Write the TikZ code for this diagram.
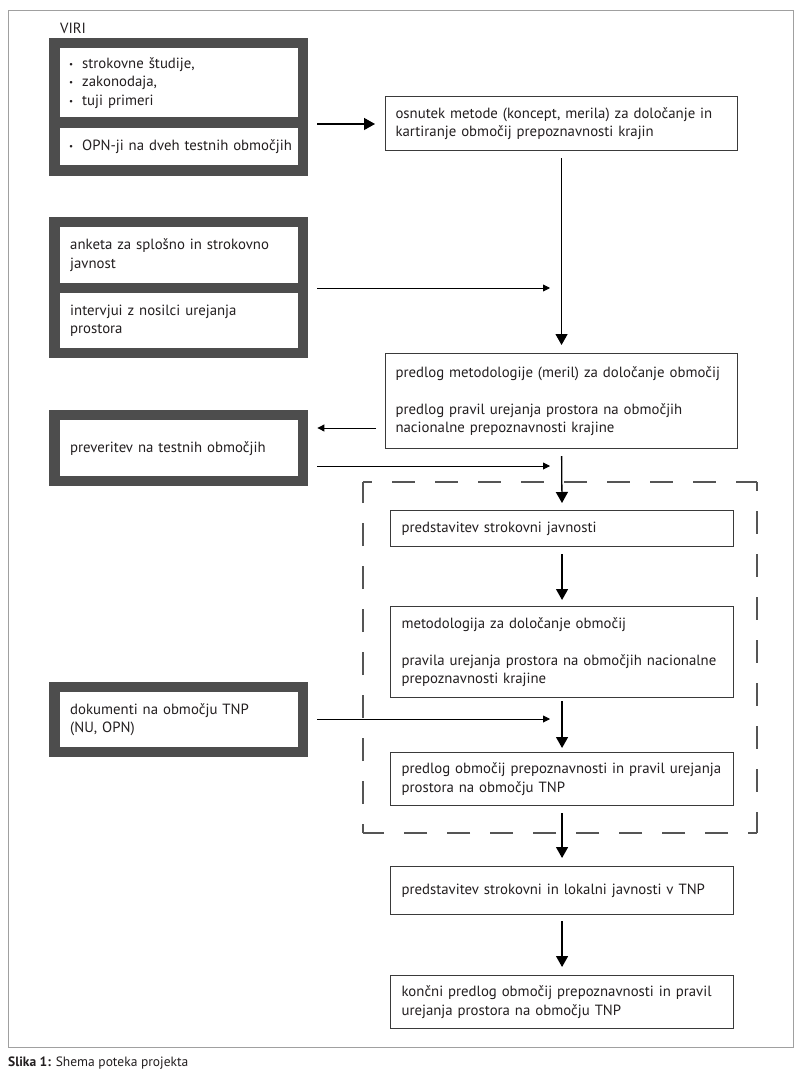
\documentclass[tikz,border=0pt]{standalone}
\usepackage{fontspec}
\setmainfont{PT Sans}
\usetikzlibrary{arrows.meta}
\definecolor{darkc}{HTML}{4D4D4D}
\definecolor{boxc}{HTML}{3A3A3A}
\definecolor{framec}{HTML}{A0A0A0}
\definecolor{dashc}{HTML}{555555}
\definecolor{txtc}{HTML}{231F20}
\newcommand\bul{\makebox[13pt][l]{\fontsize{9}{9}\selectfont\raisebox{0.15ex}{•}}}
\begin{document}
\begin{tikzpicture}[x=1pt,y=-1pt,
  bodyfont/.style={font=\fontsize{14.8}{18.5}\selectfont, text=txtc},
  box/.style={draw=boxc, line width=1.1pt, fill=white, anchor=north west, align=left,
    inner xsep=10pt, inner ysep=0pt, bodyfont},
  darkbox/.style={fill=darkc, draw=none, anchor=north west, inner sep=0pt},
  inbox/.style={fill=white, draw=none, anchor=north west, align=left,
    inner xsep=10pt, inner ysep=0pt, bodyfont},
  bigarr/.style={line width=1.3pt, draw=black, -{Triangle[length=11pt,width=12pt]}},
  smallarr/.style={line width=0.9pt, draw=black, -{Triangle[length=7pt,width=7pt]}},
  dashline/.style={dashc, line width=1.4pt, dash pattern=on 23pt off 20pt, dash phase=14pt}
]
\useasboundingbox (0,0) rectangle (800,1075);
\fill[white] (0,0) rectangle (800,1075);
% outer frame
\draw[framec, line width=1pt] (8,11) rectangle (793,1047);

% dashed group (each side starts with a short corner piece)
\coordinate (dA) at (363,482);
\coordinate (dB) at (757,482);
\coordinate (dC) at (757,833);
\coordinate (dD) at (363,833);
\draw[dashline] (dA) -- (dB);
\draw[dashline] (dB) -- (dC);
\draw[dashline] (dC) -- (dD);
\draw[dashline] (dD) -- (dA);

% VIRI
\node[anchor=west, bodyfont, inner sep=0pt] (virilabel) at (60,28) {VIRI};
\node[darkbox, minimum width=259pt, minimum height=138pt] (viri) at (49,38) {};
\node[inbox, text width=220pt, minimum height=69pt, inner xsep=9pt] (viri1) at (60,48)
  {\bul strokovne študije,\\ \bul zakonodaja,\\ \bul tuji primeri};
\node[inbox, text width=220pt, minimum height=37pt, inner xsep=9pt] (viri2) at (60,128)
  {\mbox{\bul OPN-ji na dveh testnih območjih}};

% anketa
\node[darkbox, minimum width=259pt, minimum height=141pt] (anketa) at (49,217) {};
\node[inbox, text width=218pt, minimum height=56pt] (anketa1) at (60,227)
  {anketa za splošno in strokovno\\ javnost};
\node[inbox, text width=218pt, minimum height=55pt] (anketa2) at (60,293)
  {intervjui z nosilci urejanja\\ prostora};

% preveritev
\node[darkbox, minimum width=259pt, minimum height=76pt] (prev) at (49,410) {};
\node[inbox, text width=218pt, minimum height=56pt] (prev1) at (60,420)
  {preveritev na testnih območjih};

% dokumenti
\node[darkbox, minimum width=259pt, minimum height=75pt] (dok) at (49,682) {};
\node[inbox, text width=218pt, minimum height=55pt] (dok1) at (60,692)
  {dokumenti na območju TNP\\ (NU, OPN)};

% right column
\node[box, text width=332pt, minimum height=54pt] (osnutek) at (385,96)
  {osnutek metode (koncept, merila) za določanje in\\ kartiranje območij prepoznavnosti krajin};
\node[box, text width=332pt, minimum height=95pt] (predlog) at (385,353)
  {predlog metodologije (meril) za določanje območij\\[18.5pt] predlog pravil urejanja prostora na območjih\\ nacionalne prepoznavnosti krajine};
\node[box, text width=321pt, minimum height=36pt, inner xsep=11pt] (pstrok) at (390,510)
  {predstavitev strokovni javnosti};
\node[box, text width=321pt, minimum height=91pt, inner xsep=11pt] (metod) at (390,606)
  {metodologija za določanje območij\\[18.5pt] pravila urejanja prostora na območjih nacionalne\\ prepoznavnosti krajine};
\node[box, text width=321pt, minimum height=53pt, inner xsep=11pt] (predobm) at (390,752)
  {predlog območij prepoznavnosti in pravil urejanja\\ prostora na območju TNP};
\node[box, text width=321pt, minimum height=48pt, inner xsep=11pt] (plok) at (390,866)
  {predstavitev strokovni in lokalni javnosti v TNP};
\node[box, text width=321pt, minimum height=53pt, inner xsep=11pt] (koncni) at (390,975)
  {končni predlog območij prepoznavnosti in pravil\\ urejanja prostora na območju TNP};

% caption
\node[anchor=base west, inner sep=0pt, font=\fontsize{13.5}{16}\selectfont, text=txtc] (caption) at (8,1066)
  {\textbf{Slika 1:} Shema poteka projekta};

% junction coordinates on the main line
\coordinate (j1) at (561,288);
\coordinate (j2) at (561,466);
\coordinate (j3) at (561,719);
\coordinate (l1) at (0,124);
\coordinate (l2) at (0,428);

% vertical arrows
\draw[bigarr, shorten <=7pt, shorten >=8pt] (osnutek.south) -- (predlog.north);
\draw[bigarr, shorten <=7pt, shorten >=7pt] (predlog.south) -- (pstrok.north);
\draw[bigarr, shorten <=7pt, shorten >=6pt] (pstrok.south) -- (metod.north);
\draw[bigarr, shorten <=3pt, shorten >=4pt] (metod.south) -- (predobm.north);
\draw[bigarr, shorten <=7pt, shorten >=8pt] (predobm.south) -- (plok.north);
\draw[bigarr, shorten <=6pt, shorten >=8pt] (plok.south) -- (koncni.north);

% horizontal arrows
\draw[bigarr, shorten <=9pt, shorten >=10pt] (viri.east |- l1) -- (osnutek.west |- l1);
\draw[smallarr, shorten <=9pt, shorten >=11pt] (anketa.east |- j1) -- (j1);
\draw[smallarr, shorten <=9pt, shorten >=9pt] (predlog.west |- l2) -- (prev.east |- l2);
\draw[smallarr, shorten <=9pt, shorten >=11pt] (prev.east |- j2) -- (j2);
\draw[smallarr, shorten <=9pt, shorten >=11pt] (dok.east |- j3) -- (j3);
\end{tikzpicture}
\end{document}
